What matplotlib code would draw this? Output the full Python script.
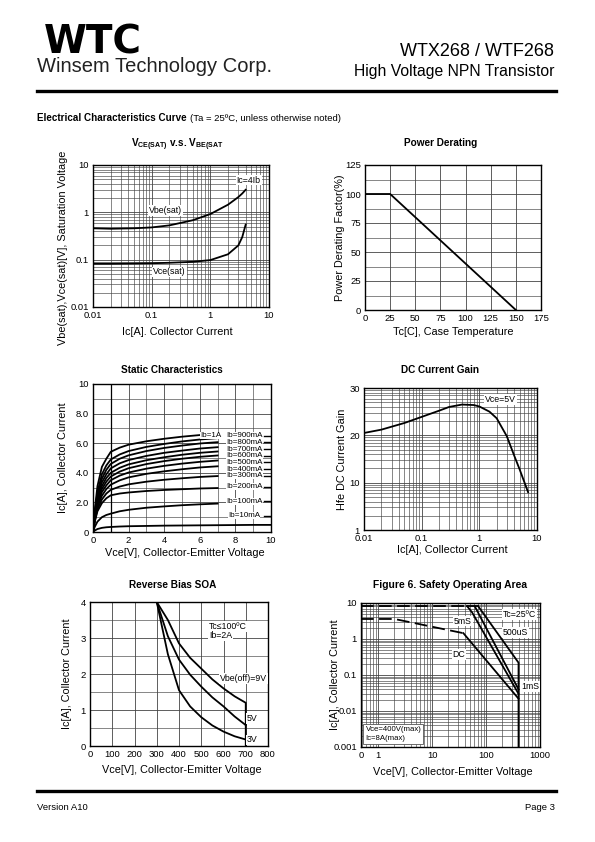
import numpy as np
import matplotlib
matplotlib.use('Agg')
import matplotlib.pyplot as plt
from matplotlib.lines import Line2D
from matplotlib.ticker import FixedLocator, MultipleLocator, NullFormatter, LogLocator

plt.rcParams['font.family'] = ['Liberation Sans', 'DejaVu Sans']
plt.rcParams['mathtext.fontset'] = 'custom'
plt.rcParams['mathtext.rm'] = 'Liberation Sans'
plt.rcParams['mathtext.bf'] = 'Liberation Sans:bold'

# ---------------- данные ----------------
# Vce(sat) / Vbe(sat)
sat_ic = [0.01, 0.02, 0.05, 0.1, 0.2, 0.5, 1, 2, 3, 3.5, 4]
vbe_sat = [0.46, 0.45, 0.46, 0.48, 0.53, 0.68, 0.92, 1.45, 2.1, 2.5, 3.0]
vce_sat = [0.082, 0.082, 0.083, 0.084, 0.086, 0.09, 0.098, 0.13, 0.2, 0.3, 0.55]

# Power derating
derate_tc = [0, 25, 150]
derate_pct = [100, 100, 0]

# Static characteristics
static_vce = [0, 0.1, 0.25, 0.5, 0.75, 1, 1.5, 2, 3, 4, 5, 6, 7]
static_vce_long = [0, 0.1, 0.25, 0.5, 0.75, 1, 1.5, 2, 3, 4, 5, 6, 7, 8, 9, 10]
ic_1a = [0, 1.5, 3.1, 4.4, 4.95, 5.42, 5.7, 5.9, 6.13, 6.3, 6.44, 6.55]
ic_900ma = [0, 1.3, 2.7, 3.9, 4.5, 4.9, 5.24, 5.47, 5.75, 5.95, 6.12, 6.25, 6.34]
ic_800ma = [0, 1.2, 2.5, 3.6, 4.2, 4.6, 4.95, 5.18, 5.47, 5.68, 5.84, 5.98, 6.07]
ic_700ma = [0, 1.1, 2.3, 3.35, 3.9, 4.3, 4.64, 4.86, 5.14, 5.35, 5.5, 5.64, 5.73]
ic_600ma = [0, 1.0, 2.1, 3.1, 3.65, 4.0, 4.34, 4.57, 4.85, 5.05, 5.22, 5.35, 5.44]
ic_500ma = [0, 0.95, 2.0, 2.9, 3.4, 3.75, 4.08, 4.31, 4.59, 4.79, 4.95, 5.08, 5.17]
ic_400ma = [0, 0.9, 1.85, 2.7, 3.15, 3.5, 3.81, 4.02, 4.28, 4.47, 4.62, 4.74, 4.83]
ic_300ma = [0, 0.8, 1.7, 2.45, 2.9, 3.2, 3.49, 3.69, 3.93, 4.1, 4.24, 4.36, 4.44]
ic_250ma = [0, 0.75, 1.55, 2.2, 2.6, 2.85, 3.07, 3.22, 3.4, 3.53, 3.63, 3.72, 3.78]
ic_200ma = [0, 0.7, 1.4, 1.95, 2.28, 2.48, 2.6, 2.67, 2.77, 2.84, 2.89, 2.94, 2.97]
ic_100ma = [0, 0.35, 0.7, 1.0, 1.15, 1.24, 1.4, 1.5, 1.64, 1.73, 1.81, 1.87, 1.92]
ic_10ma = [0, 0.1, 0.2, 0.28, 0.32, 0.34, 0.37, 0.39, 0.41, 0.43, 0.44, 0.45, 0.46, 0.47, 0.48, 0.48]
static_curves = [ic_1a, ic_900ma, ic_800ma, ic_700ma, ic_600ma, ic_500ma,
                 ic_400ma, ic_300ma, ic_250ma, ic_200ma, ic_100ma, ic_10ma]
ib_labels = ['Ib=900mA', 'Ib=800mA', 'Ib=700mA', 'Ib=600mA', 'Ib=500mA',
             'Ib=400mA', 'Ib=300mA', 'Ib=200mA', 'Ib=100mA', 'Ib=10mA']
ib_label_y = [6.5, 6.05, 5.6, 5.15, 4.7, 4.25, 3.8, 3.05, 2.07, 1.1]

# DC current gain
gain_ic = [0.01, 0.02, 0.05, 0.1, 0.2, 0.3, 0.5, 0.8, 1.0, 1.5, 2.0, 3.0, 4.0, 5.0, 6.0, 7.0]
gain_hfe = [20.5, 21.2, 22.6, 23.9, 25.2, 26.0, 26.5, 26.4, 26.1, 25.0, 23.6, 19.8, 15.8, 12.8, 10.2, 8.0]

# Reverse bias SOA
rb_vce = [0, 300, 350, 400, 450, 500, 550, 600, 650, 700]
rb_vce_9v = [0, 300, 350, 400, 450, 500, 550, 600, 650, 700, 700]
rb_ic_9v = [4, 4, 3.5, 2.85, 2.45, 2.15, 1.85, 1.6, 1.38, 1.2, 0]
rb_ic_5v = [4, 4, 3.05, 2.4, 1.98, 1.65, 1.35, 1.1, 0.82, 0.58]
rb_ic_3v = [4, 4, 2.55, 1.55, 1.1, 0.8, 0.57, 0.4, 0.27, 0.18]

# Safe operating area
soa_max_vce = [0.48, 45]
soa_max_ic = [8, 8]
soa_top_vce = [45, 72]
soa_top_ic = [8, 8]
soa_dc_dash_vce = [0.48, 2, 38]
soa_dc_dash_ic = [3.6, 3.6, 1.45]
soa_dc_vce = [38, 400]
soa_dc_ic = [1.45, 0.022]
soa_5ms_vce = [45, 55, 400]
soa_5ms_ic = [8, 5.5, 0.03]
soa_1ms_vce = [62, 400]
soa_1ms_ic = [8, 0.04]
soa_500us_vce = [72, 400, 400]
soa_500us_ic = [8, 0.22, 0.001]

# ---------------- разметка страницы ----------------
W, H = 595, 842


def box(x0, y0, x1, y1):
    return [x0 / W, 1 - y1 / H, (x1 - x0) / W, (y1 - y0) / H]


def fx(x):
    return x / W


def fy(y):
    return 1 - y / H


fig = plt.figure(figsize=(5.95, 8.42), dpi=100)
fig.patch.set_facecolor('white')

# шапка
fig.text(fx(44), fy(54), 'WTC', fontsize=28, fontweight='bold',
         family='DejaVu Sans', va='baseline')
fig.text(fx(37), fy(72), 'Winsem Technology Corp.', fontsize=14.5,
         color='#222222', va='baseline')
fig.text(fx(554), fy(56), 'WTX268 / WTF268', fontsize=13, ha='right', va='baseline')
fig.text(fx(554), fy(76), 'High Voltage NPN Transistor', fontsize=11.3,
         ha='right', va='baseline')
fig.add_artist(Line2D([fx(37), fx(556)], [fy(91), fy(91)], lw=2.4, color='black'))

fig.text(fx(37), fy(121), 'Electrical Characteristics Curve', fontsize=7.1,
         fontweight='bold', va='baseline')
fig.text(fx(190), fy(121), '(Ta = 25ºC, unless otherwise noted)', fontsize=6.8,
         va='baseline')

# подвал
fig.add_artist(Line2D([fx(37), fx(556)], [fy(791), fy(791)], lw=2.4, color='black'))
fig.text(fx(37), fy(810), 'Version A10', fontsize=6.8, va='baseline')
fig.text(fx(555), fy(810), 'Page 3', fontsize=6.8, ha='right', va='baseline')

GRID = '#444444'
CURVE = dict(color='black', lw=1.3)
LBL = dict(fontsize=6.3, bbox=dict(facecolor='white', edgecolor='none', pad=0.6))
SMALL = dict(fontsize=5.8, bbox=dict(facecolor='white', edgecolor='none', pad=0))


def style(ax):
    ax.tick_params(which='both', length=0, labelsize=6.8, pad=3)
    for s in ax.spines.values():
        s.set_linewidth(1.0)
    ax.grid(which='major', color=GRID, lw=0.6)
    ax.grid(which='minor', color=GRID, lw=0.45)
    ax.set_axisbelow(True)


def title(x, y, text, size=7.2):
    fig.text(fx(x), fy(y), text, fontsize=size, fontweight='bold',
             ha='center', va='center')


def xlabel(x, y, text):
    fig.text(fx(x), fy(y), text, fontsize=7.8, ha='center', va='center')


def ylabel(x, y, text):
    fig.text(fx(x), fy(y), text, fontsize=7.8, ha='center', va='center',
             rotation=90)


# --- 1. Vce(sat) v.s. Vbe(sat) ---
ax1 = fig.add_axes(box(93, 165, 269, 307))
ax1.plot(sat_ic, vbe_sat, **CURVE)
ax1.plot(sat_ic, vce_sat, **CURVE)
ax1.set_xscale('log')
ax1.set_yscale('log')
ax1.set_xlim(0.01, 10)
ax1.set_ylim(0.01, 10)
ax1.set_xticks([0.01, 0.1, 1, 10], ['0.01', '0.1', '1', '10'])
ax1.set_yticks([0.01, 0.1, 1, 10], ['0.01', '0.1', '1', '10'])
ax1.xaxis.set_minor_locator(LogLocator(subs=np.arange(2, 10)))
ax1.yaxis.set_minor_locator(LogLocator(subs=np.arange(2, 10)))
ax1.xaxis.set_minor_formatter(NullFormatter())
ax1.yaxis.set_minor_formatter(NullFormatter())
style(ax1)
ax1.text(4.5, 4.8, 'Ic=4Ib', ha='center', va='center', **LBL)
ax1.text(0.17, 1.1, 'Vbe(sat)', ha='center', va='center', **LBL)
ax1.text(0.2, 0.055, 'Vce(sat)', ha='center', va='center', **LBL)
title(177, 145, r'$\mathbf{V_{CE(SAT)}}$ v.s. $\mathbf{V_{BE(SAT}}$')
xlabel(177, 332, 'Ic[A]. Collector Current')
ylabel(63, 248, 'Vbe(sat),Vce(sat)[V], Saturation Voltage')

# --- 2. Power Derating ---
ax2 = fig.add_axes(box(365, 165, 541, 310))
ax2.plot(derate_tc, derate_pct, **CURVE)
ax2.set_xlim(0, 175)
ax2.set_ylim(0, 125)
ax2.set_xticks(np.arange(0, 176, 25))
ax2.set_yticks(np.arange(0, 126, 25))
ax2.yaxis.set_minor_locator(MultipleLocator(12.5))
style(ax2)
title(441, 143, 'Power Derating')
xlabel(453, 332, 'Tc[C], Case Temperature')
ylabel(340, 238, 'Power Derating Factor(%)')

# --- 3. Static Characteristics ---
ax3 = fig.add_axes(box(93, 384, 271, 532))
for ic in static_curves:
    if len(ic) == len(static_vce_long):
        ax3.plot(static_vce_long, ic, **CURVE)
    else:
        ax3.plot(static_vce[:len(ic)], ic, **CURVE)
ax3.set_xlim(0, 10)
ax3.set_ylim(0, 10)
ax3.set_xticks(np.arange(0, 11, 2))
ax3.set_yticks([0, 2, 4, 6, 8, 10], ['0', '2.0', '4.0', '6.0', '8.0', '10'])
ax3.xaxis.set_minor_locator(MultipleLocator(1))
ax3.yaxis.set_minor_locator(MultipleLocator(1))
style(ax3)
ax3.axvline(1, color='black', lw=0.9, zorder=1)
ax3.text(6.6, ib_label_y[0], 'Ib=1A', ha='center', va='center', **SMALL)
for lab, ly in zip(ib_labels, ib_label_y):
    ax3.text(8.5, ly, lab, ha='center', va='center', **SMALL)
    ax3.plot([9.6, 9.95], [ly, ly], color='black', lw=1.0)
title(172, 370, 'Static Characteristics')
xlabel(185, 553, 'Vce[V], Collector-Emitter Voltage')
ylabel(63, 458, 'Ic[A], Collector Current')

# --- 4. DC Current Gain ---
ax4 = fig.add_axes(box(364, 388, 537, 530))
ax4.plot(gain_ic, gain_hfe, **CURVE)
ax4.set_xscale('log')
ax4.set_xlim(0.01, 10)
ax4.set_ylim(0, 30)
ax4.set_xticks([0.01, 0.1, 1, 10], ['0.01', '0.1', '1', '10'])
ax4.xaxis.set_minor_locator(LogLocator(subs=np.arange(2, 10)))
ax4.xaxis.set_minor_formatter(NullFormatter())
ax4.set_yticks([0, 10, 20, 30], ['1', '10', '20', '30'])
ax4.yaxis.set_minor_locator(FixedLocator(
    [k * 10 + 10 * np.log10(m) for k in range(3) for m in range(2, 10)]))
style(ax4)
ax4.text(2.3, 27.6, 'Vce=5V', ha='center', va='center', **LBL)
title(440, 370, 'DC Current Gain')
xlabel(452, 550, 'Ic[A], Collector Current')
ylabel(342, 459, 'Hfe DC Current Gain')

# --- 5. Reverse Bias SOA ---
ax5 = fig.add_axes(box(90, 602, 268, 746))
ax5.plot(rb_vce_9v, rb_ic_9v, **CURVE)
ax5.plot(rb_vce, rb_ic_5v, **CURVE)
ax5.plot(rb_vce, rb_ic_3v, **CURVE)
ax5.set_xlim(0, 800)
ax5.set_ylim(0, 4)
ax5.set_xticks(np.arange(0, 801, 100))
ax5.set_yticks(np.arange(0, 5, 1))
ax5.yaxis.set_minor_locator(MultipleLocator(0.5))
style(ax5)
ax5.text(535, 3.31, 'Tc≤100ºC', ha='left', va='center', **LBL)
ax5.text(535, 3.06, 'Ib=2A', ha='left', va='center', **LBL)
ax5.text(795, 1.88, 'Vbe(off)=9V', ha='right', va='center', **LBL)
ax5.text(705, 0.77, '5V', ha='left', va='center', **LBL)
ax5.text(705, 0.17, '3V', ha='left', va='center', **LBL)
title(173, 585, 'Reverse Bias SOA')
xlabel(182, 770, 'Vce[V], Collector-Emitter Voltage')
ylabel(67, 674, 'Ic[A], Collector Current')

# --- 6. Safety Operating Area ---
ax6 = fig.add_axes(box(361, 603, 540, 747))
ax6.plot(soa_max_vce, soa_max_ic, color='black', lw=1.3, ls=(0, (7, 3)))
ax6.plot(soa_top_vce, soa_top_ic, **CURVE)
ax6.plot(soa_dc_dash_vce, soa_dc_dash_ic, color='black', lw=1.3, ls=(0, (7, 3)))
ax6.plot(soa_dc_vce, soa_dc_ic, **CURVE)
ax6.plot(soa_5ms_vce, soa_5ms_ic, **CURVE)
ax6.plot(soa_1ms_vce, soa_1ms_ic, **CURVE)
ax6.plot(soa_500us_vce, soa_500us_ic, **CURVE)
ax6.set_xscale('log')
ax6.set_yscale('log')
ax6.set_xlim(0.48, 1000)
ax6.set_ylim(0.001, 10)
ax6.set_xticks([0.48, 1, 10, 100, 1000], ['0', '1', '10', '100', '1000'])
ax6.set_yticks([0.001, 0.01, 0.1, 1, 10], ['0.001', '0.01', '0.1', '1', '10'])
ax6.xaxis.set_minor_locator(LogLocator(subs=np.arange(2, 10)))
ax6.yaxis.set_minor_locator(LogLocator(subs=np.arange(2, 10)))
ax6.xaxis.set_minor_formatter(NullFormatter())
ax6.yaxis.set_minor_formatter(NullFormatter())
style(ax6)
ax6.text(412, 4.85, 'Tc=25ºC', ha='center', va='center', **LBL)
ax6.text(37, 3.16, '5mS', ha='center', va='center', **LBL)
ax6.text(344, 1.5, '500uS', ha='center', va='center', **LBL)
ax6.text(31.6, 0.376, 'DC', ha='center', va='center', **LBL)
ax6.text(653, 0.047, '1mS', ha='center', va='center', **LBL)
ax6.text(0.025, 0.035, 'Vce=400V(max)\nIc=8A(max)', transform=ax6.transAxes,
         fontsize=5.6, ha='left', va='bottom', linespacing=1.3,
         bbox=dict(facecolor='white', edgecolor='#555555', lw=0.6, pad=1.5))
title(450, 585, 'Figure 6. Safety Operating Area', size=7.4)
xlabel(453, 772, 'Vce[V], Collector-Emitter Voltage')
ylabel(335, 675, 'Ic[A], Collector Current')

plt.savefig('out.png', dpi=100)
